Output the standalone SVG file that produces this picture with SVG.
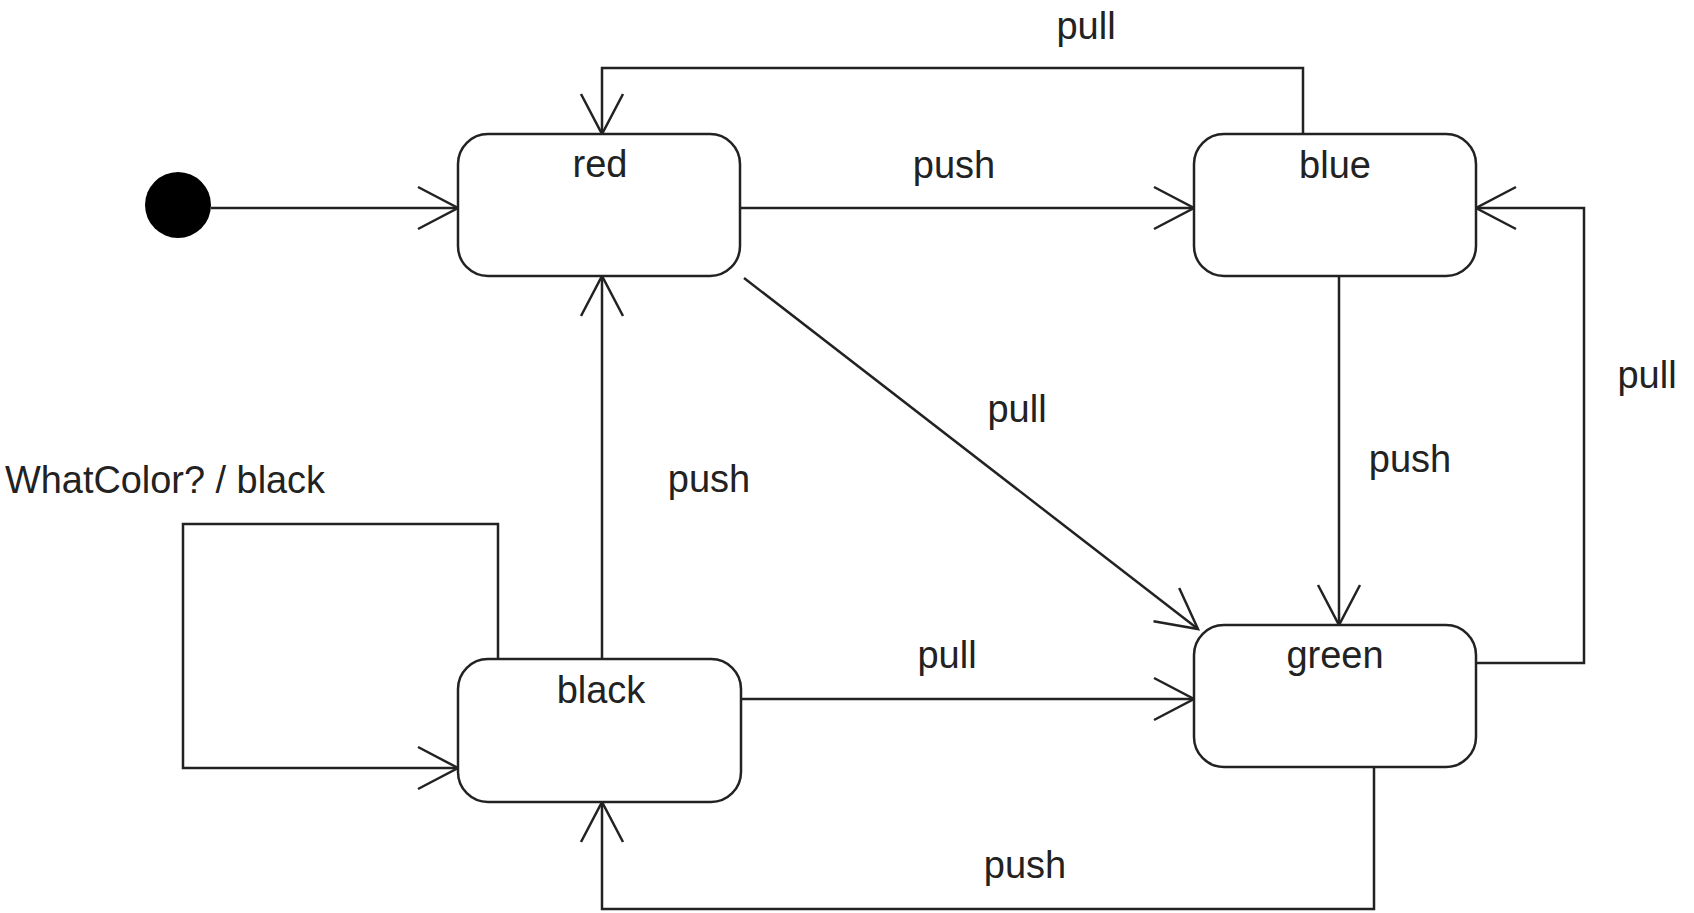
<svg xmlns="http://www.w3.org/2000/svg" width="1694" height="913" viewBox="0 0 1694 913">
<style>
.st{fill:#fff;stroke:#222;stroke-width:2.5}
.ln{fill:none;stroke:#222;stroke-width:2.5}
text{font-family:"Liberation Sans",Arial,sans-serif;font-size:38px;fill:#222}
.c{text-anchor:middle}
</style>
<defs>
<marker id="arr" markerUnits="userSpaceOnUse" viewBox="-44 -25 48 50" markerWidth="48" markerHeight="50" refX="0" refY="0" orient="auto">
<path d="M-40,-21 L0,0 L-40,21" fill="none" stroke="#222" stroke-width="2.5"/>
</marker>
</defs>
<rect width="1694" height="913" fill="#fff"/>
<g id="connectors">
<path class="ln" d="M211,208 H458" marker-end="url(#arr)"/>
<path class="ln" d="M740,208 H1194" marker-end="url(#arr)"/>
<path class="ln" d="M1303,134 V68 H602 V134" marker-end="url(#arr)"/>
<path class="ln" d="M744,278 L1198,629" marker-end="url(#arr)"/>
<path class="ln" d="M1339,276 V625" marker-end="url(#arr)"/>
<path class="ln" d="M1476,663 H1584 V208 H1476" marker-end="url(#arr)"/>
<path class="ln" d="M602,659 V276" marker-end="url(#arr)"/>
<path class="ln" d="M498,659 V524 H183 V768 H458" marker-end="url(#arr)"/>
<path class="ln" d="M741,699 H1194" marker-end="url(#arr)"/>
<path class="ln" d="M1374,767 V909 H602 V802" marker-end="url(#arr)"/>
<text class="c" x="954" y="178">push</text>
<text class="c" x="1086" y="39">pull</text>
<text class="c" x="1017" y="422">pull</text>
<text class="c" x="1410" y="472">push</text>
<text class="c" x="1647" y="388">pull</text>
<text class="c" x="709" y="492">push</text>
<text x="5" y="493" textLength="320" lengthAdjust="spacingAndGlyphs">WhatColor? / black</text>
<text class="c" x="947" y="668">pull</text>
<text class="c" x="1025" y="878">push</text>
</g>
<g id="initial"><circle cx="178" cy="205" r="33" fill="#000"/></g>
<g id="red"><rect class="st" x="458" y="134" width="282" height="142" rx="30" ry="30"/><text class="c" x="600" y="177">red</text></g>
<g id="blue"><rect class="st" x="1194" y="134" width="282" height="142" rx="30" ry="30"/><text class="c" x="1335" y="178">blue</text></g>
<g id="black"><rect class="st" x="458" y="659" width="283" height="143" rx="30" ry="30"/><text class="c" x="601" y="703">black</text></g>
<g id="green"><rect class="st" x="1194" y="625" width="282" height="142" rx="30" ry="30"/><text class="c" x="1335" y="668">green</text></g>
</svg>
